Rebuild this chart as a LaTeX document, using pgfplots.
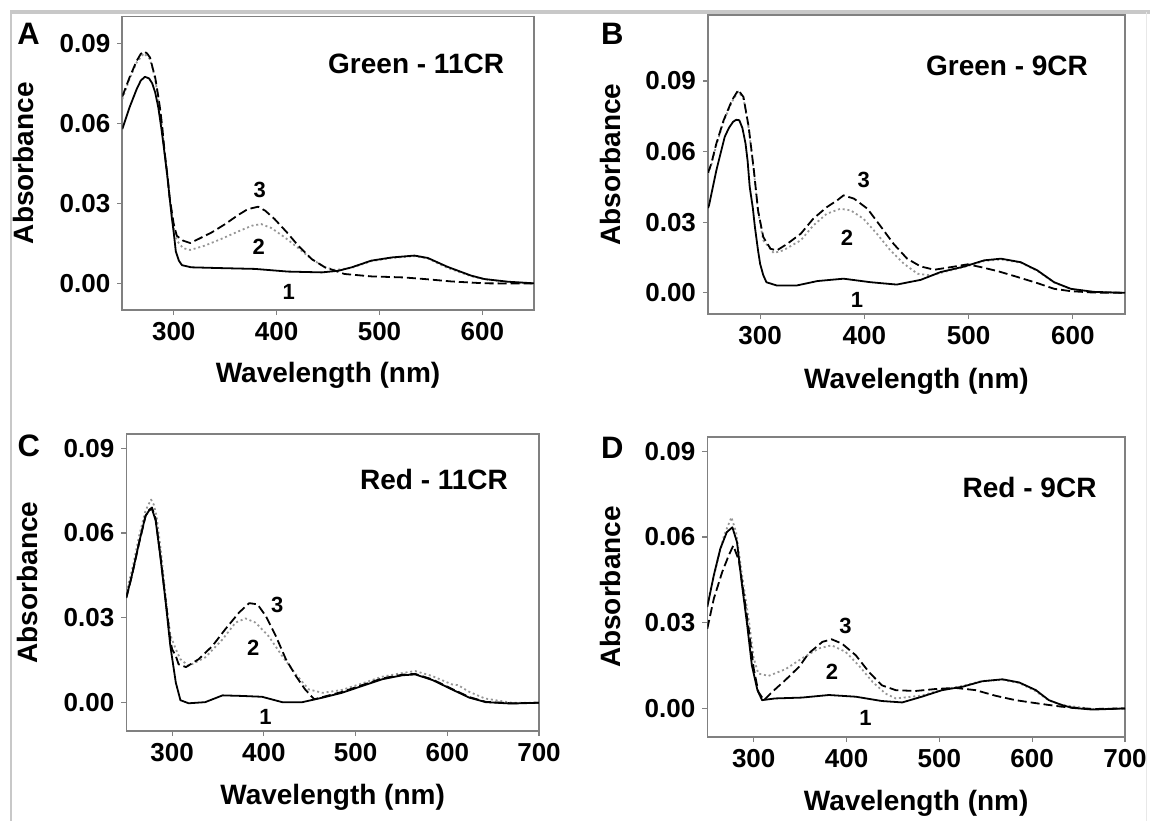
\documentclass[border=0pt]{standalone}
\usepackage{fontspec}
\setmainfont{Liberation Sans}
\usepackage{pgfplots}
\pgfplotsset{compat=1.18}

\definecolor{boxgray}{RGB}{128,128,128}
\definecolor{dotgray}{RGB}{150,150,150}
\definecolor{framegray}{RGB}{200,200,200}

\tikzset{lab/.style={font=\fontsize{11}{11}\selectfont\bfseries, inner sep=0pt}}

\pgfplotsset{
  panel/.style={
    scale only axis,
    anchor=south west,
    axis line style={boxgray, line width=0.8pt},
    tick style={boxgray, line width=0.6pt},
    tick align=outside,
    major tick length=2.5pt,
    xtick pos=left, ytick pos=left,
    ytick={0,0.03,0.06,0.09},
    scaled y ticks=false,
    y tick label style={/pgf/number format/fixed, /pgf/number format/fixed zerofill, /pgf/number format/precision=2},
    /pgf/number format/assume math mode=true,
    tick label style={font=\fontsize{13}{13}\selectfont\bfseries},
    label style={font=\fontsize{14}{14}\selectfont\bfseries},
    xlabel={Wavelength (nm)},
    ylabel={Absorbance},
    every axis plot/.append style={line width=0.9pt, line join=round},
  },
  s1/.style={black, solid},
  s2/.style={dotgray, dash pattern=on 1pt off 1.4pt},
  s3/.style={black, dash pattern=on 4.5pt off 2pt},
}

\begin{document}
\begin{tikzpicture}
\path[use as bounding box] (0,0) rectangle (575pt,410.5pt);

% frame lines of the figure
\draw[framegray, line width=1.75pt] (5pt,404.5pt) -- (575pt,404.5pt);
\draw[framegray, line width=0.6pt] (5.5pt,404.5pt) -- (5.5pt,0pt);
\draw[gray!18, line width=0.6pt] (573.35pt,404.5pt) -- (573.35pt,0pt);

% ---------- A: Green - 11CR
\begin{axis}[panel, at={(61.15pt,255.5pt)}, width=205.75pt, height=146.75pt,
  xmin=250, xmax=650, ymin=-0.01, ymax=0.1, xtick={300,400,500,600},
  ylabel style={at={(axis description cs:-0.2406,0.5)}, anchor=center},
  xlabel style={at={(axis description cs:0.5,-0.2215)}, anchor=center}]
\addplot[s2] table {
250 0.0690
257 0.0765
264 0.0828
271 0.0862
277 0.0840
282 0.0765
287 0.0640
291 0.0495
296 0.0320
300 0.0210
303 0.0160
309 0.0132
316 0.0125
330 0.0141
346 0.0166
363 0.0195
376 0.0216
385 0.0222
395 0.0207
408 0.0172
421 0.0132
434 0.0091
447 0.0060
457 0.0050
473 0.0058
492 0.0083
512 0.0095
534 0.0102
547 0.0093
566 0.0058
589 0.0027
602 0.0015
625 0.0005
650 0.0000
};
\addplot[s3] table {
250 0.0700
257 0.0771
264 0.0834
268 0.0860
271 0.0869
274 0.0862
277 0.0846
280 0.0800
282 0.0771
285 0.0700
287 0.0647
289 0.0580
291 0.0497
294 0.0400
296 0.0322
300 0.0222
303 0.0178
309 0.0160
316 0.0151
324 0.0166
337 0.0191
350 0.0222
363 0.0257
372 0.0278
382 0.0287
389 0.0272
398 0.0241
410 0.0191
421 0.0141
434 0.0091
447 0.0060
457 0.0047
466 0.0035
492 0.0026
524 0.0022
544 0.0016
570 0.0007
602 0.0000
650 -0.0001
};
\addplot[s1] table {
250 0.0578
257 0.0659
264 0.0728
268 0.0760
272 0.0774
276 0.0768
279 0.0750
282 0.0715
285 0.0659
288 0.0580
291 0.0490
294 0.0395
296 0.0322
298 0.0250
300 0.0190
302 0.0120
305 0.0085
308 0.0068
317 0.0060
346 0.0057
379 0.0054
411 0.0044
444 0.0041
460 0.0047
473 0.0060
492 0.0085
512 0.0097
534 0.0104
547 0.0095
566 0.0062
589 0.0029
602 0.0016
625 0.0006
650 0.0000
};
\node[lab] at (axis cs:383.7,0.0351) {3};
\node[lab] at (axis cs:382.7,0.0135) {2};
\node[lab] at (axis cs:411.8,-0.0034) {1};
\end{axis}

% ---------- B: Green - 9CR
\begin{axis}[panel, at={(354pt,253.5pt)}, width=208.5pt, height=149.5pt,
  xmin=250, xmax=650, ymin=-0.009, ymax=0.118, xtick={300,400,500,600},
  ylabel style={at={(axis description cs:-0.235,0.5)}, anchor=center},
  xlabel style={at={(axis description cs:0.5,-0.2264)}, anchor=center}]
\addplot[s2] table {
250 0.0505
253 0.0540
258 0.0628
265 0.0728
273 0.0812
279 0.0855
284 0.0825
289 0.0700
294 0.0515
298 0.0345
303 0.0223
313 0.0169
322 0.0180
339 0.0223
351 0.0286
364 0.0336
377 0.0357
387 0.0350
399 0.0315
412 0.0251
425 0.0180
438 0.0123
451 0.0081
464 0.0074
476 0.0088
496 0.0110
515 0.0135
531 0.0142
550 0.0128
566 0.0093
582 0.0044
598 0.0016
620 0.0003
650 0.0000
};
\addplot[s3] table {
250 0.0510
253 0.0546
258 0.0634
265 0.0733
273 0.0818
279 0.0861
284 0.0832
289 0.0705
294 0.0520
298 0.0350
303 0.0237
310 0.0187
316 0.0180
326 0.0208
339 0.0251
351 0.0315
364 0.0364
374 0.0393
380 0.0414
390 0.0400
403 0.0357
415 0.0286
428 0.0208
441 0.0145
454 0.0112
467 0.0098
483 0.0109
499 0.0121
512 0.0109
528 0.0092
547 0.0067
566 0.0041
582 0.0017
598 0.0007
620 0.0001
650 0.0000
};
\addplot[s1] table {
250 0.0360
251 0.0372
258 0.0520
266 0.0662
270 0.0700
274 0.0726
277 0.0735
280 0.0733
283 0.0700
286 0.0634
288 0.0560
290 0.0450
293 0.0360
295 0.0279
298 0.0180
300 0.0123
303 0.0075
306 0.0045
316 0.0031
335 0.0031
355 0.0050
380 0.0060
406 0.0045
431 0.0035
454 0.0055
473 0.0088
496 0.0112
515 0.0138
531 0.0145
550 0.0130
566 0.0095
582 0.0045
598 0.0017
620 0.0004
650 0.0000
};
\node[lab] at (axis cs:399.3,0.0478) {3};
\node[lab] at (axis cs:383.4,0.0232) {2};
\node[lab] at (axis cs:393,-0.003) {1};
\end{axis}

% ---------- C: Red - 11CR
\begin{axis}[panel, at={(63.15pt,45pt)}, width=206.35pt, height=148.5pt,
  xmin=250, xmax=700, ymin=-0.01, ymax=0.095, xtick={300,400,500,600,700},
  ylabel style={at={(axis description cs:-0.2387,0.5)}, anchor=center},
  xlabel style={at={(axis description cs:0.5,-0.2222)}, anchor=center}]
\addplot[s2] table {
250 0.0390
257 0.0480
264 0.0590
271 0.0680
277 0.0718
280 0.0700
283 0.0660
288 0.0530
293 0.0370
298 0.0240
304 0.0189
309 0.0154
318 0.0130
336 0.0160
355 0.0224
369 0.0283
380 0.0298
391 0.0283
405 0.0236
420 0.0165
435 0.0100
449 0.0047
464 0.0035
485 0.0045
507 0.0068
529 0.0092
551 0.0105
565 0.0112
583 0.0095
605 0.0065
612 0.0062
623 0.0040
641 0.0015
670 0.0000
700 0.0000
};
\addplot[s3] table {
250 0.0370
256 0.0447
264 0.0565
271 0.0660
275 0.0682
278 0.0690
282 0.0650
287 0.0525
293 0.0360
298 0.0220
300 0.0189
304 0.0165
307 0.0136
315 0.0126
329 0.0154
344 0.0201
358 0.0260
373 0.0319
384 0.0352
393 0.0348
402 0.0307
413 0.0236
424 0.0154
435 0.0094
445 0.0047
455 0.0012
464 0.0020
485 0.0038
507 0.0062
529 0.0086
551 0.0099
565 0.0102
584 0.0082
605 0.0049
624 0.0020
642 0.0003
670 -0.0002
700 0.0000
};
\addplot[s1] table {
250 0.0372
256 0.0449
264 0.0567
271 0.0661
275 0.0680
278 0.0685
282 0.0644
287 0.0520
293 0.0354
298 0.0201
304 0.0071
309 0.0009
318 -0.0002
336 0.0002
355 0.0026
376 0.0024
398 0.0021
420 0.0002
442 0.0002
464 0.0018
485 0.0035
507 0.0059
529 0.0083
551 0.0097
565 0.0100
584 0.0080
605 0.0047
624 0.0018
642 0.0002
670 -0.0003
700 0.0000
};
\node[lab] at (axis cs:414.5,0.0345) {3};
\node[lab] at (axis cs:388.3,0.0195) {2};
\node[lab] at (axis cs:401.8,-0.005) {1};
\end{axis}

% ---------- D: Red - 9CR
\begin{axis}[panel, at={(353.65pt,42pt)}, width=208.85pt, height=150pt,
  xmin=250, xmax=700, ymin=-0.01, ymax=0.095, xtick={300,400,500,600,700},
  ylabel style={at={(axis description cs:-0.232,0.5)}, anchor=center},
  xlabel style={at={(axis description cs:0.5,-0.22)}, anchor=center}]
\addplot[s2] table {
250 0.0367
259 0.0489
268 0.0605
276 0.0669
281 0.0617
287 0.0477
295 0.0303
300 0.0175
305 0.0122
316 0.0114
334 0.0137
352 0.0175
370 0.0210
384 0.0221
399 0.0198
413 0.0151
428 0.0093
442 0.0052
453 0.0035
481 0.0045
503 0.0066
524 0.0078
546 0.0096
568 0.0100
586 0.0089
603 0.0062
618 0.0028
632 0.0012
665 -0.0002
700 0.0000
};
\addplot[s3] table {
250 0.0279
257 0.0384
266 0.0477
273 0.0535
278 0.0570
284 0.0518
289 0.0407
295 0.0268
300 0.0140
305 0.0058
311 0.0029
320 0.0058
334 0.0099
349 0.0146
359 0.0192
374 0.0233
384 0.0242
395 0.0227
410 0.0186
424 0.0128
438 0.0081
453 0.0064
474 0.0061
496 0.0068
517 0.0072
539 0.0064
561 0.0044
582 0.0029
607 0.0017
632 0.0006
665 -0.0002
700 0.0000
};
\addplot[s1] table {
250 0.0355
257 0.0466
264 0.0559
271 0.0617
277 0.0634
282 0.0582
287 0.0442
293 0.0291
298 0.0151
304 0.0064
309 0.0029
323 0.0035
352 0.0038
381 0.0047
410 0.0041
438 0.0026
460 0.0021
481 0.0041
503 0.0064
525 0.0076
546 0.0095
568 0.0102
586 0.0091
604 0.0064
618 0.0029
632 0.0012
643 0.0002
665 -0.0004
700 0.0000
};
\node[lab] at (axis cs:398.8,0.0288) {3};
\node[lab] at (axis cs:384.4,0.0128) {2};
\node[lab] at (axis cs:420.4,-0.0032) {1};
\end{axis}

% panel titles and letters
\begin{scope}[every node/.style={inner sep=0pt, font=\fontsize{14}{14}\selectfont\bfseries}]
\node[anchor=west] at (163.9pt,378.6pt) {Green - 11CR};
\node[anchor=west] at (462.85pt,377.6pt) {Green - 9CR};
\node[anchor=west] at (179.85pt,170.75pt) {Red - 11CR};
\node[anchor=west] at (481.15pt,167pt) {Red - 9CR};
\end{scope}
\begin{scope}[every node/.style={inner sep=0pt, font=\fontsize{15.5}{15.5}\selectfont\bfseries}]
\node at (14.25pt,393.5pt) {A};
\node at (306.1pt,393.4pt) {B};
\node at (14.35pt,187.6pt) {C};
\node at (306.1pt,186.75pt) {D};
\end{scope}
\end{tikzpicture}
\end{document}
